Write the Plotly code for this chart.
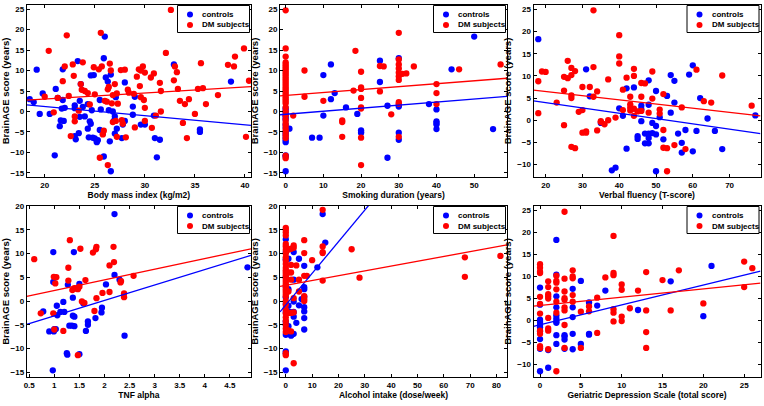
import plotly.graph_objects as go

# ---------------- data ----------------
# Panel 1: Body mass index
bmi_ctrl_x = [18.5, 18.9, 19.2, 19.5, 19.8, 20.5, 21.0, 21.1, 21.3, 21.5, 21.6, 21.7, 21.8, 21.8, 21.9, 22.0,
              23.0, 23.0, 23.0, 23.1, 23.3, 23.4, 23.5, 23.5, 23.6, 23.8, 24.0, 24.3, 24.3, 24.4, 24.5, 24.6,
              24.6, 24.7, 24.8, 24.9, 25.0, 25.2, 25.3, 25.5, 25.5, 25.6, 25.8, 25.9, 26.0, 25.9, 26.1, 26.3,
              26.4, 26.5, 26.6, 26.6, 26.8, 26.9, 27.0, 27.0, 27.1, 27.2, 27.7, 27.8, 27.8, 28.0, 28.0, 28.8,
              28.8, 29.0, 29.6, 30.0, 30.9, 31.0, 31.2, 31.5, 32.9, 35.5, 35.5, 38.6]
bmi_ctrl_y = [3.0, 2.3, 10.2, -0.6, 4.4, -0.6, -10.7, 5.5, 3.3, -3.6, -2.2, 0.7, 10.3, 2.8, -2.3, 0.9,
              1.5, 0.8, -6.0, -6.8, 12.3, -5.3, -1.3, 2.6, 6.7, 1.1, -1.2, 1.8, -4.2, -6.3, -2.4, 8.8,
              -3.0, 0.3, -6.4, 8.9, -6.6, -7.5, -7.0, 2.8, -4.5, 0.5, -5.4, 13.0, 18.3, -11.0, 8.3, 7.3,
              0.3, -7.3, 9.0, -14.6, 0.0, -2.3, -5.4, -1.2, 3.5, -4.2, -6.5, -2.6, -3.2, 7.1, -2.3, 1.2,
              -0.8, 3.6, -3.2, -3.2, -1.0, -6.5, -11.2, -6.9, 11.5, -4.4, -5.0, 7.3]
bmi_dm_x = [20.4, 20.0, 20.9, 21.3, 21.8, 22.0, 22.2, 22.4, 22.6, 22.8, 22.9, 23.0, 23.0, 23.4, 23.6, 23.7,
            23.8, 24.0, 24.3, 24.5, 24.9, 25.0, 25.4, 25.5, 25.6, 25.7, 25.8, 25.9, 26.0, 26.2, 26.3, 26.3,
            26.4, 26.5, 26.6, 26.7, 26.8, 26.8, 27.0, 27.1, 27.2, 27.2, 27.3, 27.6, 27.7, 27.8, 28.0, 28.1,
            28.3, 28.4, 28.9, 29.0, 29.2, 29.4, 29.5, 29.6, 29.6, 29.8, 29.9, 30.0, 30.0, 30.0, 30.6, 30.7,
            30.9, 31.1, 31.5, 31.6, 31.6, 32.1, 32.6, 32.9, 33.0, 33.3, 33.2, 33.5, 33.8, 34.0, 34.2, 34.4,
            35.0, 35.3, 35.6, 35.8, 36.1, 37.3, 38.3, 38.9, 39.0, 39.9, 40.1, 40.4]
bmi_dm_y = [14.8, 3.6, -0.2, 3.3, 7.4, 11.0, 18.6, 3.8, -6.0, 11.5, 8.7, -2.4, -1.2, 0.2, 6.7, 5.3,
            12.0, 5.0, 4.5, 1.7, 10.8, 4.2, 10.3, -11.3, 19.2, 11.0, -5.6, -4.7, 2.6, 2.4, 5.4, -13.1,
            6.0, 11.7, 10.0, 2.0, 4.0, -2.6, 6.7, -2.3, 4.4, -6.2, 1.9, 10.1, -2.1, -3.0, 10.2, -6.3,
            5.3, 4.6, 4.3, -3.9, 8.5, 10.3, 6.2, 3.5, 10.0, 11.0, 2.8, 9.5, -2.3, 0.9, 8.3, -4.0,
            9.3, -1.0, 7.0, 5.0, 0.0, 14.3, 24.8, 7.6, 11.0, 5.5, 9.6, 2.6, -2.8, 1.8, -6.5, 3.0,
            -0.6, 5.5, 11.8, 5.7, 1.8, 4.0, 11.4, 11.0, 13.4, 15.4, -6.2, 7.5]

# Panel 2: Smoking duration
smk_ctrl_x = [0] * 16 + [1, 7, 9, 10, 10, 12, 12, 13, 16, 19, 20, 20, 20, 25, 25, 27, 27, 30, 30, 30, 30, 30,
                         38, 40, 40, 40, 40, 40, 44, 50, 55]
smk_ctrl_y = [0.8, 0.2, -0.5, -1.0, -1.5, -2.0, -3.2, -4.0, -5.0, -5.6, -6.4, -7.0, -7.5, -10.7, -11.0, -14.6,
              -4.2, -6.4, -6.4, 8.9, -1.0, 11.5, 3.0, 4.5, 1.0, -0.6, -4.6, -5.0, -5.2, 12.4, 7.2, 1.4, -11.3,
              13.0, 1.2, 1.6, -5.2, -6.9, 1.8, 0.5, -2.4, -2.8, -3.2, -4.3, 10.3, 18.3, -4.3]
smk_dm_x = [0] * 36 + [2, 5, 5, 10, 15, 15, 15, 18, 18.5, 20, 20, 20, 20, 20, 20, 20, 20, 25, 25, 26, 28,
                       30, 30, 30, 30, 30, 30, 30, 30, 30, 30, 31, 32, 34, 40, 40, 40, 46, 57]
smk_dm_y = [24.7, 15.4, 13.4, 12.0, 11.5, 11.0, 10.5, 10.0, 9.5, 9.0, 8.5, 8.0, 7.5, 7.0, 6.5, 6.0, 5.5, 5.0,
            4.5, 4.0, 3.5, 3.0, 2.5, 2.0, 1.0, 0.0, -1.0, -2.0, -2.8, -3.5, -4.3, -5.0, -5.8, -6.5, -10.8, -11.4,
            -1.0, 10.0, 3.6, 2.6, -2.2, -2.6, -6.2, 5.1, 14.8, 9.7, 5.9, 5.5, 3.3, 1.0, 0.7, -6.4, -13.1,
            11.1, 4.9, 11.0, -0.7, 19.2, 12.7, 11.5, 10.5, 9.5, 8.6, 7.7, 2.3, 1.9, -6.2, 9.2, 9.3, 11.0,
            6.7, 4.5, 1.8, 10.3, 11.5]

# Panel 3: Verbal fluency
vf_ctrl_x = [18, 31, 32, 35, 38, 39, 40, 41, 42, 42, 44, 45, 45, 46, 46, 46, 47, 47, 48, 48, 48, 48, 48, 49,
             49, 50, 50, 50, 50, 51, 52, 53, 54, 54, 55, 55, 56, 57, 57, 58, 59, 60, 60, 61, 62, 64, 66, 68, 77]
vf_ctrl_y = [18.3, 11.5, 5.4, -0.6, -11.3, -10.7, 2.7, 1.0, 7.2, -6.4, 7.4, -3.6, -4.2, 3.3, 2.5, -0.2, -3.0,
             -5.2, 9.0, 3.5, -3.0, -4.0, -5.2, -0.6, -2.9, -1.3, -3.2, 6.6, -11.5, 0.7, -4.3, 5.5, 10.2, 1.7,
             8.9, 4.0, -3.0, -5.1, -7.3, -2.2, 10.3, -7.0, 12.4, -2.4, 5.0, 0.4, -2.4, -6.5, 1.1]
vf_dm_x = [18, 18, 19, 20, 23, 25, 25, 25, 26, 26, 27, 27, 27, 27, 27, 28, 28, 29, 30, 30, 30, 31, 31, 32,
           33, 33, 33, 34, 34, 35, 35, 36, 37, 37, 39, 40, 40, 40, 41, 41, 42, 43, 43, 43, 43, 44, 44, 44,
           44, 45, 46, 46, 46, 47, 48, 49, 49, 51, 51, 52, 52, 52, 53, 53, 55, 57, 58, 61, 63, 65, 68, 76]
vf_dm_y = [8.8, 1.6, 11.0, 10.9, 4.0, 9.8, 6.7, -1.1, 13.4, 9.5, 11.8, 10.2, 5.6, 5.0, -6.0, 11.1, -6.3, 1.9,
           7.5, 2.3, -2.8, -2.8, -2.5, 7.5, 24.8, 12.0, 5.3, 6.5, -2.3, -0.2, -0.4, -0.9, 9.2, 0.0, 0.6, 19.2,
           14.4, 12.8, 6.9, 2.3, 9.6, 5.3, 3.6, 2.9, 2.2, 11.6, 10.0, 1.0, 2.6, 2.0, 8.4, 2.1, 5.3, 8.3, 1.7,
           11.0, 4.9, 2.4, 1.5, 5.9, -2.2, -6.2, -6.3, -11.5, -5.6, 2.9, -6.5, 11.4, 4.3, 4.0, 10.1, 3.3]

# Panel 4: TNF alpha
tnf_ctrl_x = [0.97, 0.78, 0.90, 0.98, 0.98, 0.99, 1.00, 1.03, 1.05, 1.06, 1.12, 1.18, 1.20, 1.25, 1.26, 1.27,
              1.30, 1.35, 1.37, 1.37, 1.40, 1.40, 1.39, 1.50, 1.50, 1.58, 1.63, 1.67, 1.67, 1.82, 1.94, 1.95,
              2.03, 2.20, 2.20, 2.30, 2.40, 4.85]
tnf_ctrl_y = [-14.6, -2.2, -6.4, 10.3, 4.0, -6.4, -5.9, -5.9, -1.0, -3.0, -2.3, -0.2, -2.3, -11.0, -11.3, 3.4,
              -5.2, -5.2, -3.1, 0.7, -3.3, -5.3, 10.3, 3.6, -11.2, -0.5, -6.3, -4.3, -5.0, -3.6, -2.4, -1.4,
              3.5, 18.3, 5.5, 4.5, -7.3, 7.1]
tnf_dm_x = [0.60, 0.73, 0.98, 0.99, 1.02, 1.04, 1.00, 1.18, 1.28, 1.28, 1.31, 1.36, 1.40, 1.45, 1.47, 1.47,
            1.50, 1.52, 1.55, 1.60, 1.62, 1.77, 1.80, 1.83, 1.84, 1.84, 1.96, 2.10, 2.10, 2.18, 2.19, 2.32,
            2.33, 2.39, 2.39, 2.58]
tnf_dm_y = [8.8, -2.6, -2.6, 5.1, 3.7, 5.0, -6.0, -6.3, 4.3, 7.0, 12.8, 2.3, 2.7, 2.6, 2.5, -11.4,
            3.0, 11.0, -0.1, -0.4, 4.4, 10.2, -2.1, 10.9, 11.4, 0.6, 1.7, 7.5, 1.9, 11.4, 8.2, 3.9,
            4.2, 1.6, 0.8, 5.3]

# Panel 5: Alcohol intake
alc_ctrl_x = [0] * 15 + [1, 1, 1, 1, 1.5, 2, 2.5, 3, 3, 3, 3, 3, 3, 4, 5, 5, 6, 7, 7, 7, 7, 7, 7, 7, 7,
                         12, 14, 15]
alc_ctrl_y = [13.0, 10.3, 8.8, 0.8, -0.6, -1.5, -2.3, -4.3, -5.0, -7.1, -10.6, -11.0, -14.6, 5.0, 3.0,
              8.9, -5.3, 2.5, -1.0, -2.3, -7.3, -7.0, -6.9, 10.3, 4.5, -0.1, -3.3, -2.3, -4.6, 8.9, -0.9, 0.4,
              7.4, 2.5, 2.9, 0.9, -1.3, -2.2, -3.6, -6.0, 7.1, 18.3, 12.3]
alc_dm_x = [0] * 35 + [1, 1, 1, 1, 1, 2, 2, 2, 2, 2, 2, 3, 3, 3, 3, 3, 4, 5, 5, 7, 7, 7, 7, 7, 7, 8, 10,
                       14, 14, 14, 14, 14, 25, 28, 68, 68, 81.5]
alc_dm_y = [15.4, 15.0, 14.5, 13.8, 12.0, 11.5, 10.8, 10.0, 9.2, 8.5, 7.8, 7.0, 6.5, 6.0, 5.5, 5.0, 4.5, 4.0,
            3.5, 3.0, 2.5, 2.0, 1.5, 1.0, 0.0, -0.8, -1.8, -2.6, -3.4, -4.2, -5.0, -5.8, -6.5, -11.0, -11.4,
            10.8, 6.0, 2.0, -2.5, -6.2, 11.0, 7.6, 6.0, 4.5, -6.4, -2.5, 11.7, 11.2, -13.1, 0.6, -2.4, 7.5,
            2.0, 4.5, 12.8, 10.1, 5.3, 1.0, 0.4, 0.0, 5.3, 8.6, 19.2, 11.5, 10.3, 10.1, 4.3, 10.9, 4.9,
            9.2, 5.1, 9.5]

# Panel 6: Geriatric Depression Scale
gds_ctrl_x = [0, 0, 0, 0, 0, 0, 0, 0, 0, 0, 1, 1, 2, 2, 2, 2, 2, 2, 2, 2, 2, 2, 3, 3, 3, 3, 4, 4, 4, 4, 4,
              5, 5, 6, 6, 6, 7, 8, 12, 16, 20, 21]
gds_ctrl_y = [7.5, 3.6, 0.2, -0.3, -1.0, -1.5, -2.4, -4.2, -6.4, -11.5, -6.7, -10.7, 18.3, 10.4, 5.5, 3.0,
              1.2, 0.5, -0.2, -0.5, -3.3, -5.3, -3.3, -3.6, -4.3, -6.4, 7.2, 3.0, 0.8, -3.0, -6.5, 9.0, -5.3,
              4.1, -3.0, -3.2, 3.4, 6.8, 2.4, 8.9, 1.0, 12.4]
gds_dm_x = [0, 0, 0, 0, 0, 0, 0, 0, 0, 0, 0, 1, 1, 1, 1, 1, 1, 1, 1, 1, 2, 2, 2, 2, 2, 2, 2, 3, 3, 3, 3, 3,
            3, 3, 3, 3, 4, 4, 4, 4, 4, 5, 5, 6, 6, 7, 7, 8, 9, 9, 9, 9, 9, 9, 10, 10, 10, 10, 11, 12, 13, 13,
            13, 13, 15, 16, 17, 20, 25, 25, 26]
gds_dm_y = [12.8, 12.0, 11.1, 10.8, 5.4, 3.8, 1.6, -2.3, -3.0, -5.8, -6.2, 8.9, 7.6, 6.0, 5.5, 5.0, 0.6, -1.8,
            -2.3, -6.5, 10.2, 9.0, 8.6, 7.1, 4.3, 1.8, -11.5, 24.7, 9.5, 6.6, 5.1, 4.7, 3.0, 2.3, -1.0, -6.2,
            11.4, 10.0, 9.6, 5.8, 4.3, 2.0, -6.2, 2.1, 3.2, 5.2, -2.8, 9.8, 19.2, 10.8, 10.3, 2.6, 1.8, -0.2,
            8.2, 7.0, 0.9, -0.1, 2.8, 6.8, 11.0, 2.3, -2.6, -6.2, 9.2, 2.3, 11.4, 3.9, 13.4, 7.6, 11.9]

# regression lines (intercept, slope)
fit_ctrl_a = [5.66, -0.69, 6.40, -6.36, -0.84, -0.94]
fit_ctrl_b = [-0.223, 0.0749, -0.120, 3.244, 0.666, 0.450]
fit_dm_a = [0.12, 3.91, 8.37, -0.01, 3.32, 3.45]
fit_dm_b = [0.147, 0.0716, -0.094, 2.237, 0.101, 0.187]

series_names = ["controls", "DM subjects"]
x_titles = ["Body mass index (kg/m2)", "Smoking duration (years)", "Verbal fluency (T-score)",
            "TNF alpha", "Alcohol intake (dose/week)", "Geriatric Depression Scale (total score)"]
y_title = "BrainAGE score (years)"
x_ranges = [[18.2, 40.6], [-1.5, 58.7], [16.7, 78.4], [0.45, 4.92], [-2.2, 84.0], [-0.8, 27.0]]
y_ranges = [[-16, 26], [-16, 26], [-12.8, 26], [-16, 20], [-16, 20], [-12.8, 26]]
x_dtick = [5, 10, 10, 0.5, 10, 5]
x_tick0 = [20, 0, 20, 0.5, 0, 0]

panels = [
    (bmi_ctrl_x, bmi_ctrl_y, bmi_dm_x, bmi_dm_y),
    (smk_ctrl_x, smk_ctrl_y, smk_dm_x, smk_dm_y),
    (vf_ctrl_x, vf_ctrl_y, vf_dm_x, vf_dm_y),
    (tnf_ctrl_x, tnf_ctrl_y, tnf_dm_x, tnf_dm_y),
    (alc_ctrl_x, alc_ctrl_y, alc_dm_x, alc_dm_y),
    (gds_ctrl_x, gds_ctrl_y, gds_dm_x, gds_dm_y),
]

# ---------------- layout ----------------
W, H = 764, 406
col_px = [(26.7, 251.0), (280.0, 507.0), (533.5, 760.5)]
row_px = [(5.0, 177.0), (206.0, 377.0)]

BLUE = "#0000ff"
RED = "#ff0000"
COLORS = [BLUE, RED]
FONT = "Liberation Sans, Arial, sans-serif"

fig = go.Figure()
layout = dict(width=W, height=H, margin=dict(l=0, r=0, t=0, b=0),
              paper_bgcolor="white", plot_bgcolor="white", showlegend=False)
shapes = []
annotations = []

for i, (cx, cy, dx, dy) in enumerate(panels):
    r, c = divmod(i, 3)
    n = "" if i == 0 else str(i + 1)
    xa, ya = "x" + n, "y" + n
    x0p, x1p = col_px[c]
    y0p, y1p = row_px[r]
    xdom = [x0p / W, x1p / W]
    ydom = [1 - y1p / H, 1 - y0p / H]

    for name, col, xs, ys in ((series_names[0], BLUE, cx, cy), (series_names[1], RED, dx, dy)):
        fig.add_trace(go.Scatter(x=xs, y=ys, mode="markers", name=name, cliponaxis=False,
                                 marker=dict(color=col, size=6.3, line=dict(width=0)),
                                 xaxis=xa, yaxis=ya))
    xr = x_ranges[i]
    fig.add_trace(go.Scatter(x=xr, y=[fit_ctrl_a[i] + fit_ctrl_b[i] * v for v in xr], mode="lines",
                             name="controls fit", line=dict(color=BLUE, width=1.3),
                             xaxis=xa, yaxis=ya, hoverinfo="skip"))
    fig.add_trace(go.Scatter(x=xr, y=[fit_dm_a[i] + fit_dm_b[i] * v for v in xr], mode="lines",
                             name="DM subjects fit", line=dict(color=RED, width=1.3),
                             xaxis=xa, yaxis=ya, hoverinfo="skip"))

    axis_common = dict(showline=True, linecolor="black", linewidth=1, mirror="allticks",
                       ticks="inside", ticklen=3, tickcolor="black", showgrid=False, zeroline=False,
                       automargin=False,
                       tickfont=dict(family=FONT, size=8, color="black", weight="bold"))
    layout["xaxis" + n] = dict(axis_common, domain=xdom, anchor=ya, range=xr,
                               tick0=x_tick0[i], dtick=x_dtick[i],
                               title=dict(text=x_titles[i], standoff=2,
                                          font=dict(family=FONT, size=8.5, color="black", weight="bold")))
    layout["yaxis" + n] = dict(axis_common, domain=ydom, anchor=xa, range=y_ranges[i],
                               tick0=0, dtick=5,
                               title=dict(text=y_title, standoff=3,
                                          font=dict(family=FONT, size=9.5, color="black", weight="bold")))

    # compact boxed legend in the upper-right corner of each panel
    bw, bh = 72.0, 27.0
    bx1 = x1p - 1.5
    bx0 = bx1 - bw
    by0 = y0p + 0.5
    by1 = by0 + bh
    shapes.append(dict(type="rect", xref="paper", yref="paper",
                       x0=bx0 / W, x1=bx1 / W, y0=1 - by1 / H, y1=1 - by0 / H,
                       fillcolor="white", line=dict(color="black", width=1), layer="above"))
    for k, (name, col) in enumerate(zip(series_names, COLORS)):
        my = by0 + 9.0 + k * 10.5
        shapes.append(dict(type="circle", xref="paper", yref="paper",
                           xsizemode="pixel", ysizemode="pixel",
                           xanchor=(bx0 + 12.5) / W, yanchor=1 - my / H,
                           x0=-3, x1=3, y0=-3, y1=3,
                           fillcolor=col, line=dict(width=0), layer="above"))
        annotations.append(dict(text=name, xref="paper", yref="paper", showarrow=False,
                                x=(bx0 + 22.5) / W, y=1 - my / H, xanchor="left", yanchor="middle",
                                font=dict(family=FONT, size=8, color="black", weight="bold")))

layout["shapes"] = shapes
layout["annotations"] = annotations
fig.update_layout(**layout)
fig.write_html("out.html", config={"displayModeBar": False},
               post_script="document.body.style.margin='0';")
